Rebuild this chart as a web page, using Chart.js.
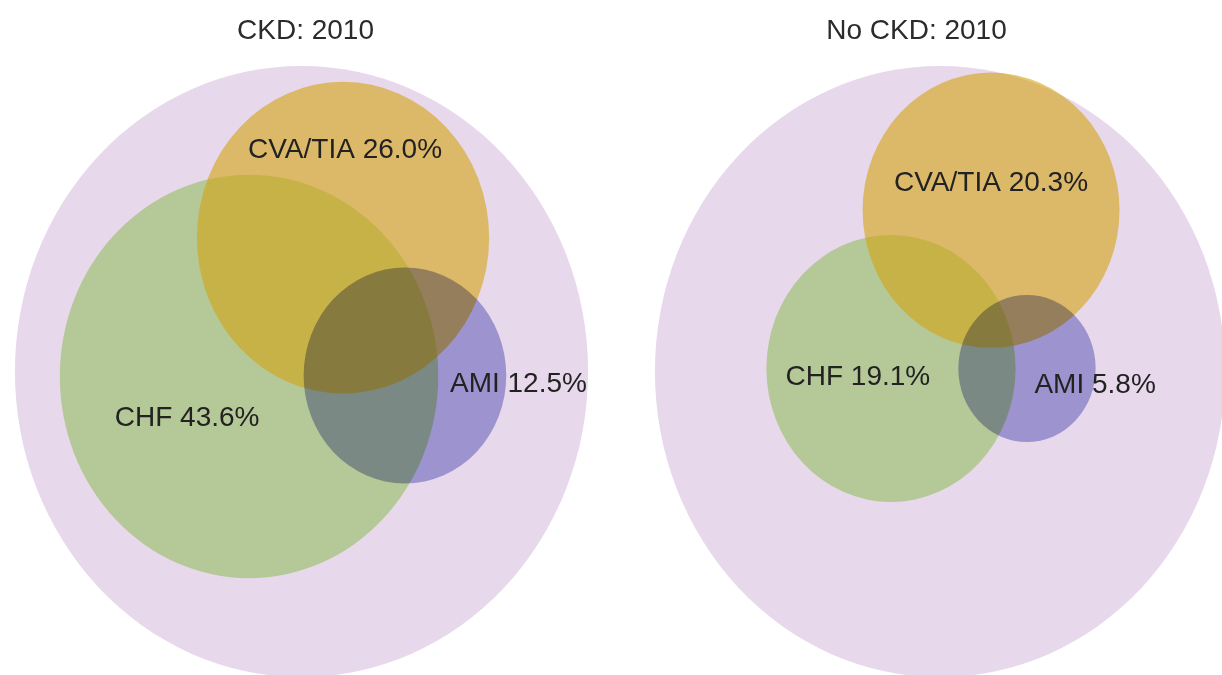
<!DOCTYPE html>
<html>
<head>
<meta charset="utf-8">
<title>CKD vs No CKD: 2010</title>
<script src="https://cdn.jsdelivr.net/npm/chart.js@4.4.1/dist/chart.umd.min.js"></script>
<style>
    html, body { margin: 0; padding: 0; background: #ffffff; }
    .wrap { display: flex; width: 1222px; height: 675px; overflow: hidden; }
    .panel { position: relative; width: 611px; height: 675px; }
</style>
</head>
<body>
<div class="wrap">
    <div class="panel"><canvas id="ckdChart"></canvas></div>
    <div class="panel"><canvas id="noCkdChart"></canvas></div>
</div>
<script>
// sets, in drawing order (outer set = all patients)
const setNames = ['All', 'CHF', 'CVA/TIA', 'AMI'];

// percent of patients in each set
const ckdPercent = [100, 43.6, 26.0, 12.5];
const noCkdPercent = [100, 19.1, 20.3, 5.8];

// circle centres, in units of the outer circle radius
const ckdCenterX = [0, -0.183, 0.145, 0.361];
const ckdCenterY = [0, -0.016, 0.438, -0.013];
const noCkdCenterX = [0, -0.172, 0.179, 0.305];
const noCkdCenterY = [0, 0.010, 0.528, 0.010];

// where each label sits (same units)
const ckdLabelX = [null, -0.399, 0.152, 0.757];
const ckdLabelY = [null, -0.154, 0.725, -0.042];
const noCkdLabelX = [null, -0.288, 0.179, 0.544];
const noCkdLabelY = [null, -0.020, 0.616, -0.046];

const setColors = ['#e8d8ec', '#b5c897', 'rgba(212, 164, 19, 0.6)', '#adafe0'];
const setBlend = ['source-over', 'source-over', 'source-over', 'multiply'];

const FONT = '"Liberation Sans", Arial, Helvetica, sans-serif';

// draws each set as a circle in data units, so the scales decide its shape on screen
const vennPlugin = {
    id: 'venn',
    beforeDatasetsDraw(chart) {
        const ctx = chart.ctx;
        const xs = chart.scales.x;
        const ys = chart.scales.y;
        chart.data.datasets.forEach(ds => {
            const p = ds.data[0];
            const px = xs.getPixelForValue(p.x);
            const py = ys.getPixelForValue(p.y);
            const rx = Math.abs(xs.getPixelForValue(p.x + p.r) - px);
            const ry = Math.abs(ys.getPixelForValue(p.y + p.r) - py);
            ctx.save();
            ctx.globalCompositeOperation = ds.blend;
            ctx.fillStyle = ds.backgroundColor;
            ctx.beginPath();
            ctx.ellipse(px, py, rx, ry, 0, 0, Math.PI * 2);
            ctx.fill();
            ctx.restore();
        });
    },
    afterDatasetsDraw(chart, args, opts) {
        const ctx = chart.ctx;
        const xs = chart.scales.x;
        const ys = chart.scales.y;
        ctx.save();
        ctx.font = `28px ${FONT}`;
        ctx.fillStyle = '#222222';
        ctx.textAlign = 'center';
        ctx.textBaseline = 'middle';
        chart.data.datasets.forEach((ds, i) => {
            if (opts.labelX[i] === null) return;
            const text = `${ds.label} ${ds.percent.toFixed(1)}%`;
            ctx.fillText(text, xs.getPixelForValue(opts.labelX[i]), ys.getPixelForValue(opts.labelY[i]));
        });
        ctx.restore();
    }
};

function makeVenn(canvasId, title, percents, centerX, centerY, labelX, labelY, xMin, xMax) {
    const datasets = setNames.map((name, i) => ({
        label: name,
        percent: percents[i],
        blend: setBlend[i],
        backgroundColor: setColors[i],
        data: [{ x: centerX[i], y: centerY[i], r: Math.sqrt(percents[i] / 100) }],
        pointRadius: 0,
        pointHoverRadius: 0,
        borderWidth: 0
    }));

    return new Chart(document.getElementById(canvasId), {
        type: 'scatter',
        data: { datasets },
        plugins: [vennPlugin],
        options: {
            responsive: true,
            maintainAspectRatio: false,
            animation: false,
            events: [],
            layout: { padding: 0, autoPadding: false },
            scales: {
                x: { type: 'linear', display: false, min: xMin, max: xMax },
                y: { type: 'linear', display: false, min: -0.993, max: 1.06 }
            },
            plugins: {
                legend: { display: false },
                tooltip: { enabled: false },
                title: {
                    display: true,
                    text: title,
                    color: '#2b2b2b',
                    font: { family: FONT, size: 28, weight: 'normal' },
                    padding: { top: 14, bottom: 0 }
                },
                venn: { labelX, labelY }
            }
        }
    });
}

makeVenn('ckdChart', 'CKD: 2010', ckdPercent, ckdCenterX, ckdCenterY, ckdLabelX, ckdLabelY, -1.052, 1.080);
makeVenn('noCkdChart', 'No CKD: 2010', noCkdPercent, noCkdCenterX, noCkdCenterY, noCkdLabelX, noCkdLabelY, -1.154, 0.989);
</script>
</body>
</html>
